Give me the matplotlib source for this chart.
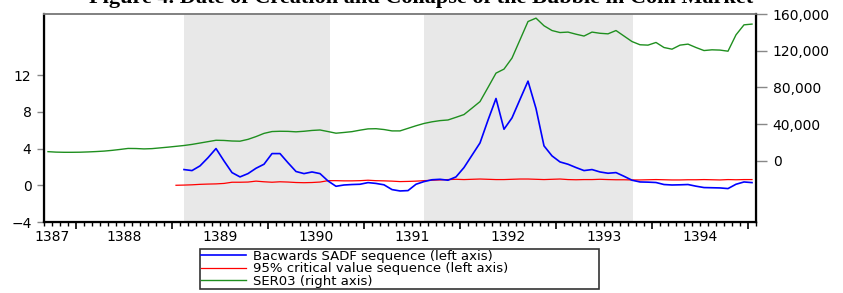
import numpy as np
import matplotlib.pyplot as plt
from matplotlib.ticker import FixedLocator, FuncFormatter

# monthly data, 1387:09 .. 1395:01 (89 observations)
start_year, start_month = 1387, 9
ser03 = [10100, 9600, 9400, 9400, 9500, 9800, 10200, 10700, 11500, 12500,
         13600, 13500, 13100, 13400, 14200, 15000, 15900, 16800, 18000, 19500,
         21000, 22500, 22300, 21700, 21500, 23500, 26500, 30000, 32000, 32300,
         32200, 31700, 32300, 33200, 33700, 32000, 30200, 31000, 31900, 33500,
         34900, 35100, 34200, 32700, 32700, 35500, 38300, 40800, 42600, 43900,
         44600, 47500, 50500, 57500, 64600, 80000, 95600, 100000, 112000, 131900,
         151800, 155500, 147200, 142000, 139800, 140300, 138000, 136000, 140300, 139000,
         138400, 142000, 136000, 130000, 126500, 126100, 129000, 123500, 121700, 126100,
         127200, 123500, 120200, 121000, 120700, 119500, 137300, 148200, 149000]

# SADF sequence starts at observation 17
sadf_start = 17
sadf = [1.71, 1.60, 2.11, 3.00, 4.00, 2.65, 1.38, 0.91, 1.27, 1.85,
        2.29, 3.45, 3.45, 2.45, 1.50, 1.27, 1.45, 1.27, 0.47, -0.11,
        0.03, 0.08, 0.11, 0.29, 0.20, 0.05, -0.47, -0.62, -0.58, 0.11,
        0.40, 0.60, 0.65, 0.55, 0.91, 1.93, 3.27, 4.61, 7.09, 9.45,
        6.10, 7.34, 9.35, 11.34, 8.36, 4.29, 3.20, 2.54, 2.29, 1.93,
        1.60, 1.71, 1.45, 1.31, 1.38, 0.98, 0.55, 0.36, 0.34, 0.30,
        0.08, 0.03, 0.05, 0.08, -0.10, -0.25, -0.27, -0.29, -0.36, 0.11,
        0.36, 0.29]

# 95% critical values start at observation 16
cv_start = 16
cv95 = [0.00, 0.02, 0.05, 0.10, 0.13, 0.15, 0.20, 0.33, 0.33, 0.35,
        0.45, 0.38, 0.33, 0.38, 0.35, 0.30, 0.28, 0.30, 0.35, 0.50,
        0.50, 0.48, 0.48, 0.50, 0.55, 0.50, 0.48, 0.45, 0.40, 0.42,
        0.45, 0.50, 0.55, 0.58, 0.62, 0.65, 0.62, 0.65, 0.68, 0.65,
        0.62, 0.62, 0.65, 0.68, 0.68, 0.65, 0.62, 0.65, 0.68, 0.62,
        0.60, 0.62, 0.62, 0.65, 0.62, 0.60, 0.60, 0.58, 0.58, 0.60,
        0.62, 0.60, 0.58, 0.58, 0.60, 0.60, 0.62, 0.60, 0.58, 0.62,
        0.60, 0.62, 0.62]

# bubble periods (shaded)
shade_start = [1389.13, 1391.63]
shade_end = [1390.65, 1393.80]

year_labels = ['1387', '1388', '1389', '1390', '1391', '1392', '1393', '1394']
label_pos = [1387.75, 1388.5, 1389.5, 1390.5, 1391.5, 1392.5, 1393.5, 1394.5]

title = 'Figure 4. Date of Creation and Collapse of the Bubble in Coin Market'

# time axis: month centres as fractional years
n = len(ser03)
t0 = start_year + (start_month - 1) / 12
x = t0 + (np.arange(n) + 0.5) / 12

plt.rcParams['font.family'] = ['DejaVu Sans']

fig = plt.figure(figsize=(8.43, 2.93), dpi=100)
ax = fig.add_axes([44 / 843, 1 - 222 / 293, 712 / 843, 208 / 293])
ax2 = ax.twinx()

for a, b in zip(shade_start, shade_end):
    ax.axvspan(a, b, color='#e8e8e8', lw=0, zorder=0)

l1, = ax.plot(x[sadf_start:sadf_start + len(sadf)], sadf, color='blue', lw=1.2, zorder=3,
              label='Bacwards SADF sequence (left axis)')
l2, = ax.plot(x[cv_start:cv_start + len(cv95)], cv95, color='red', lw=0.9, zorder=2,
              label='95% critical value sequence (left axis)')
l3, = ax2.plot(x, ser03, color='#1f8f1f', lw=1.0, label='SER03 (right axis)')

ax.set_xlim(t0, t0 + n / 12)
ax.set_ylim(-4, 18.65)
ax2.set_ylim(-66500, 160000)

ax.set_yticks([-4, 0, 4, 8, 12])
ax2.set_yticks([0, 40000, 80000, 120000, 160000])
ax2.yaxis.set_major_formatter(FuncFormatter(lambda v, p: f'{int(v):,}'))

# x ticks: long at years, short at months, labels at mid-year
ax.xaxis.set_major_locator(FixedLocator(np.arange(1388, 1396)))
ax.xaxis.set_minor_locator(FixedLocator(np.arange(t0, t0 + n / 12 + 0.01, 1 / 12)))
ax.set_xticklabels([])
ax.tick_params(axis='x', which='major', length=5, width=1.2, color='black')
ax.tick_params(axis='x', which='minor', length=3, width=1, color='black')
for lab, p in zip(year_labels, label_pos):
    ax.text(p, -0.04, lab, transform=ax.get_xaxis_transform(), ha='center', va='top', fontsize=10)

ax.tick_params(axis='y', length=5, width=1, color='#888888', pad=4, labelsize=10)
ax2.tick_params(axis='y', length=8, width=1, color='#888888', pad=4, labelsize=10)

for s in ['left', 'bottom']:
    ax.spines[s].set_linewidth(1.6)
ax2.spines['right'].set_linewidth(1.6)
for a in (ax, ax2):
    a.spines['top'].set_color('#808080')
    a.spines['top'].set_linewidth(1.2)

# title sits mostly above the top edge, as in the reference
fig.text(0.5, 1 - 3 / 293, title, ha='center', va='baseline', fontsize=16,
         family='Liberation Serif', weight='bold')

leg = fig.legend(handles=[l1, l2, l3], loc='lower left',
                 bbox_to_anchor=(200 / 843, 4 / 293, 399 / 843, 38 / 293), mode='expand',
                 fontsize=9.5, frameon=True, fancybox=False, edgecolor='black',
                 borderpad=0.1, labelspacing=-0.05, handlelength=3.4, handletextpad=0.5,
                 borderaxespad=0)
leg.get_frame().set_linewidth(1.2)

fig.savefig('out.png', dpi=100)
